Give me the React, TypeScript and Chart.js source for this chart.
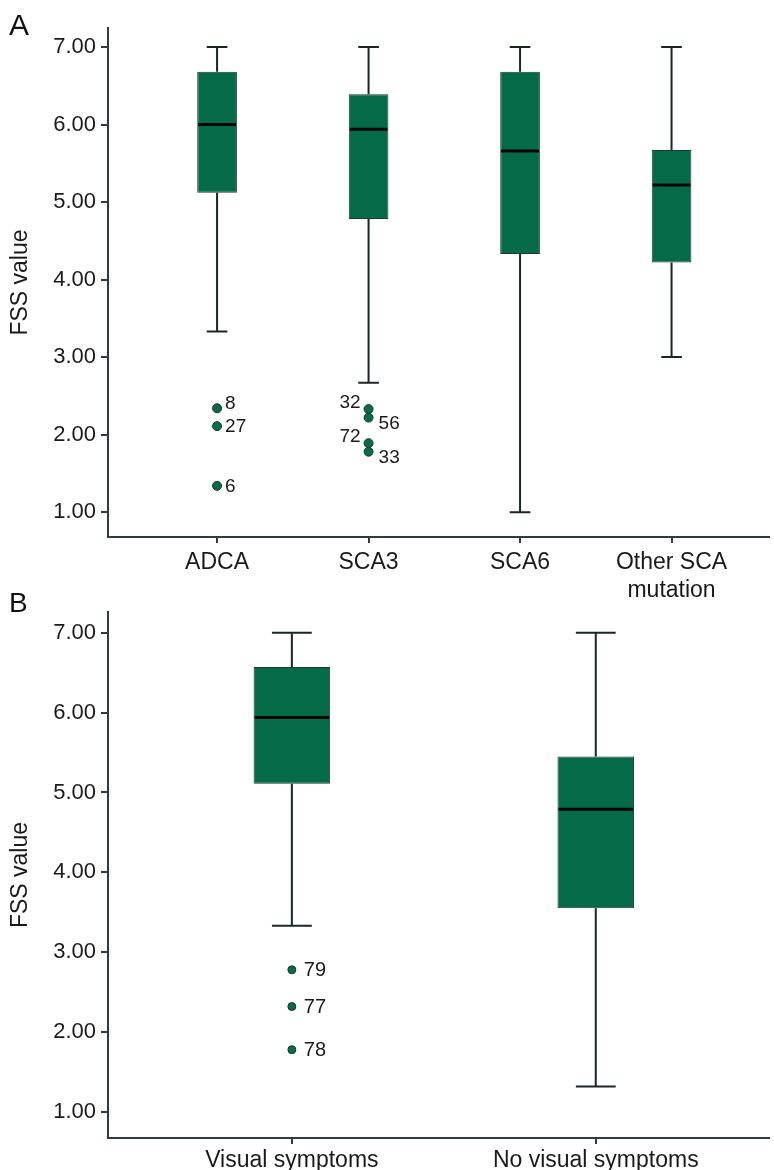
import React, { useEffect, useRef } from "react";
import { Chart, registerables } from "chart.js";

Chart.register(...registerables);

// ---------- Panel A data ----------
const groupsA = ["ADCA", "SCA3", "SCA6", "Other SCA\nmutation"];
const lowA = [3.33, 2.67, 1.0, 3.0];
const q1A = [5.12, 4.78, 4.33, 4.22];
const medA = [6.0, 5.94, 5.66, 5.22];
const q3A = [6.68, 6.39, 6.68, 5.67];
const highA = [7.0, 7.0, 7.0, 7.0];
const outGroupA = [1, 1, 1, 2, 2, 2, 2];
const outValA = [2.34, 2.11, 1.34, 2.33, 2.22, 1.89, 1.78];
const outIdA = ["8", "27", "6", "32", "56", "72", "33"];

// ---------- Panel B data ----------
const groupsB = ["Visual symptoms", "No visual symptoms"];
const lowB = [3.33, 1.32];
const q1B = [5.11, 3.55];
const medB = [5.94, 4.79];
const q3B = [6.57, 5.45];
const highB = [7.0, 7.0];
const outGroupB = [1, 1, 1];
const outValB = [2.78, 2.32, 1.78];
const outIdB = ["79", "77", "78"];

const yTickValues = [1, 2, 3, 4, 5, 6, 7];
const yTitle = "FSS value";

const FONT = "Arial, 'Liberation Sans', Helvetica, sans-serif";
const GREEN = "#046a47";
const AXIS = "#2c3c40";
const LINE = "#1b2628";
const TEXT = "#1a1a1a";

type PanelProps = {
  letter: string;
  groups: string[];
  low: number[];
  q1: number[];
  med: number[];
  q3: number[];
  high: number[];
  outGroup: number[];
  outVal: number[];
  outId: string[];
  top: number;
  height: number;
  padTop: number;
  xAxisHeight: number;
  xMin: number;
  xMax: number;
  yMin: number;
  yMax: number;
  barPct: number;
  dotRadius: number;
  labelGap: number;
  labelSize: number;
  letterY: number;
  letterSize: number;
  xTickPad: number;
};

function Panel(p: PanelProps) {
  const ref = useRef<HTMLCanvasElement | null>(null);

  useEffect(() => {
    if (!ref.current) return;

    const boxPlugin = {
      id: "boxWhiskers",
      afterDatasetsDraw(chart: any) {
        const ctx = chart.ctx;
        const ys = chart.scales.y;
        const meta = chart.getDatasetMeta(0);
        ctx.save();
        meta.data.forEach((bar: any, i: number) => {
          const cx = bar.x;
          const w = bar.width;
          const cap = w * 0.26;
          const yHigh = ys.getPixelForValue(p.high[i]);
          const yQ3 = ys.getPixelForValue(p.q3[i]);
          const yQ1 = ys.getPixelForValue(p.q1[i]);
          const yLow = ys.getPixelForValue(p.low[i]);
          const yMed = ys.getPixelForValue(p.med[i]);
          ctx.strokeStyle = LINE;
          ctx.lineWidth = 2;
          ctx.beginPath();
          ctx.moveTo(cx, yHigh);
          ctx.lineTo(cx, yQ3);
          ctx.moveTo(cx, yQ1);
          ctx.lineTo(cx, yLow);
          ctx.moveTo(cx - cap, yHigh);
          ctx.lineTo(cx + cap, yHigh);
          ctx.moveTo(cx - cap, yLow);
          ctx.lineTo(cx + cap, yLow);
          ctx.stroke();
          ctx.strokeStyle = "#050505";
          ctx.lineWidth = 3;
          ctx.beginPath();
          ctx.moveTo(cx - w / 2 + 1, yMed);
          ctx.lineTo(cx + w / 2 - 1, yMed);
          ctx.stroke();
        });

        // outlier labels
        const om = chart.getDatasetMeta(1);
        ctx.fillStyle = TEXT;
        ctx.font = `${p.labelSize}px ${FONT}`;
        ctx.textBaseline = "middle";
        om.data.forEach((pt: any, j: number) => {
          const g = p.outGroup[j];
          const v = p.outVal[j];
          let below = false;
          let above = false;
          let nearBelow = false;
          p.outVal.forEach((v2, k) => {
            if (k === j || p.outGroup[k] !== g) return;
            const d = v - v2;
            if (d > 0 && d < 0.15) below = true;
            if (d < 0 && -d < 0.15) above = true;
            if (d >= 0.15 && d < 0.3) nearBelow = true;
          });
          let x = pt.x + p.labelGap;
          let y = pt.y + 1;
          ctx.textAlign = "left";
          if (below) {
            ctx.textAlign = "right";
            x = pt.x - p.labelGap;
            y = pt.y - 6;
          } else if (above) {
            x = pt.x + p.labelGap + 2;
            y = pt.y + 6;
          } else if (nearBelow) {
            y = pt.y - 5;
          }
          ctx.fillText(p.outId[j], x, y);
        });

        ctx.restore();
      },
      afterDraw(chart: any) {
        const ctx = chart.ctx;
        ctx.save();
        ctx.fillStyle = "#111";
        ctx.font = `${p.letterSize}px ${FONT}`;
        ctx.textAlign = "left";
        ctx.textBaseline = "alphabetic";
        ctx.fillText(p.letter, 9, p.letterY);
        ctx.restore();
      },
    };

    const boxData = p.groups.map((_, i) => ({ x: i + 1, y: [p.q1[i], p.q3[i]] }));
    const outData = p.outVal.map((v, j) => ({ x: p.outGroup[j], y: v }));

    const chart = new Chart(ref.current, {
      type: "bar",
      data: {
        datasets: [
          {
            type: "bar",
            data: boxData as any,
            backgroundColor: GREEN,
            borderColor: "#213a30",
            borderWidth: 1,
            borderSkipped: false,
            barPercentage: p.barPct,
            categoryPercentage: 1,
          } as any,
          {
            type: "scatter",
            data: outData as any,
            backgroundColor: "#0a6b49",
            borderColor: "#173a2c",
            borderWidth: 1,
            pointRadius: p.dotRadius,
          } as any,
        ],
      },
      options: {
        animation: false,
        responsive: false,
        devicePixelRatio: 1,
        layout: { padding: { top: p.padTop, left: 0, right: 0, bottom: 0 } },
        plugins: {
          legend: { display: false },
          tooltip: { enabled: false },
          title: { display: false },
        },
        scales: {
          x: {
            type: "linear",
            min: p.xMin,
            max: p.xMax,
            offset: false,
            afterBuildTicks: (axis: any) => {
              axis.ticks = p.groups.map((_, i) => ({ value: i + 1 }));
            },
            afterFit: (axis: any) => {
              axis.height = p.xAxisHeight;
            },
            ticks: {
              autoSkip: false,
              maxRotation: 0,
              minRotation: 0,
              padding: p.xTickPad,
              color: TEXT,
              font: { family: FONT, size: 23, lineHeight: 1.2 },
              callback: (v: any) => {
                const s = p.groups[Math.round(v) - 1] || "";
                return s.includes("\n") ? s.split("\n") : s;
              },
            },
            grid: {
              offset: false,
              drawOnChartArea: false,
              drawTicks: true,
              tickLength: 6,
              color: AXIS,
              lineWidth: 2,
            },
            border: { display: true, color: AXIS, width: 2 },
          },
          y: {
            type: "linear",
            min: p.yMin,
            max: p.yMax,
            afterBuildTicks: (axis: any) => {
              axis.ticks = yTickValues.map((v) => ({ value: v }));
            },
            afterFit: (axis: any) => {
              axis.width = 108;
            },
            ticks: {
              padding: 5,
              color: TEXT,
              font: { family: FONT, size: 22 },
              callback: (v: any) => Number(v).toFixed(2),
            },
            grid: {
              offset: false,
              drawOnChartArea: false,
              drawTicks: true,
              tickLength: 7,
              color: AXIS,
              lineWidth: 2,
            },
            border: { display: true, color: AXIS, width: 2 },
            title: {
              display: true,
              text: yTitle,
              color: TEXT,
              font: { family: FONT, size: 23 },
              padding: { top: 7, bottom: 0 },
            },
          },
        },
      } as any,
      plugins: [boxPlugin as any],
    });

    return () => chart.destroy();
  }, []);

  return (
    <canvas
      ref={ref}
      width={774}
      height={p.height}
      style={{ position: "absolute", left: 0, top: p.top, display: "block" }}
    />
  );
}

export default function App() {
  return (
    <div style={{ position: "absolute", left: 0, top: 0, width: 774, height: 1170, background: "#fff" }}>
      <Panel
        letter="A"
        groups={groupsA}
        low={lowA}
        q1={q1A}
        med={medA}
        q3={q3A}
        high={highA}
        outGroup={outGroupA}
        outVal={outValA}
        outId={outIdA}
        top={0}
        height={605}
        padTop={28}
        xAxisHeight={68}
        xMin={0.28}
        xMax={4.64}
        yMin={0.68}
        yMax={7.245}
        barPct={0.262}
        dotRadius={4.5}
        labelGap={8}
        labelSize={19}
        letterY={35}
        letterSize={30}
        xTickPad={6}
      />
      <Panel
        letter="B"
        groups={groupsB}
        low={lowB}
        q1={q1B}
        med={medB}
        q3={q3B}
        high={highB}
        outGroup={outGroupB}
        outVal={outValB}
        outId={outIdB}
        top={590}
        height={580}
        padTop={22}
        xAxisHeight={32}
        xMin={0.395}
        xMax={2.57}
        yMin={0.674}
        yMax={7.26}
        barPct={0.252}
        dotRadius={4}
        labelGap={12}
        labelSize={20}
        letterY={22}
        letterSize={28}
        xTickPad={3}
      />
    </div>
  );
}
